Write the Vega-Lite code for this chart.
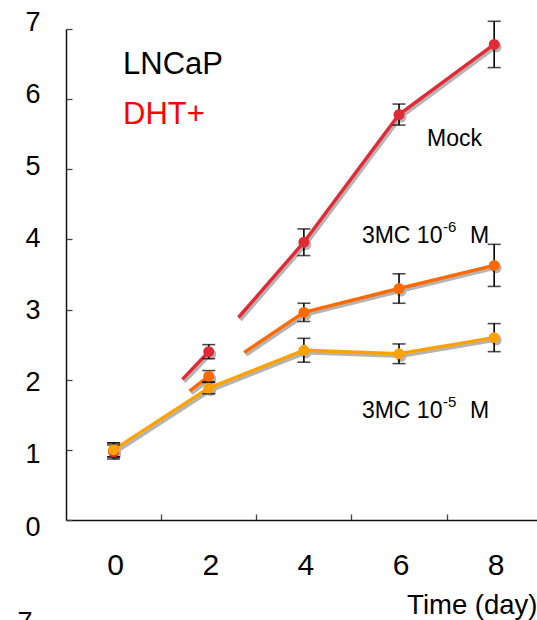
{
  "$schema": "https://vega.github.io/schema/vega-lite/v6.json",
  "width": 471,
  "height": 491,
  "autosize": {"type": "none"},
  "padding": {"left": 66, "top": 29, "right": 0, "bottom": 100},
  "background": "white",
  "config": {"view": {"stroke": null}, "font": "Liberation Sans", "axis": {"grid": false}},
  "data": {
    "values": [
      {"group": "Mock", "day": 0, "mean": 0.97, "err": 0.1},
      {"group": "Mock", "day": 2, "mean": 2.40, "err": 0.1},
      {"group": "Mock", "day": 4, "mean": 3.96, "err": 0.19},
      {"group": "Mock", "day": 6, "mean": 5.78, "err": 0.15},
      {"group": "Mock", "day": 8, "mean": 6.78, "err": 0.33},
      {"group": "3MC 1e-6", "day": 0, "mean": 1.0, "err": 0.1},
      {"group": "3MC 1e-6", "day": 2, "mean": 2.05, "err": 0.08},
      {"group": "3MC 1e-6", "day": 4, "mean": 2.96, "err": 0.13},
      {"group": "3MC 1e-6", "day": 6, "mean": 3.30, "err": 0.21},
      {"group": "3MC 1e-6", "day": 8, "mean": 3.63, "err": 0.30},
      {"group": "3MC 1e-5", "day": 0, "mean": 1.0, "err": 0.1},
      {"group": "3MC 1e-5", "day": 2, "mean": 1.88, "err": 0.08},
      {"group": "3MC 1e-5", "day": 4, "mean": 2.42, "err": 0.17},
      {"group": "3MC 1e-5", "day": 6, "mean": 2.37, "err": 0.14},
      {"group": "3MC 1e-5", "day": 8, "mean": 2.60, "err": 0.20}
    ]
  },
  "encoding": {
    "x": {
      "field": "day", "type": "quantitative",
      "scale": {"domain": [-1, 8.9], "nice": false, "zero": false},
      "axis": {
        "values": [0, 1, 2, 3, 4, 5, 6, 7, 8],
        "labelExpr": "datum.value % 2 == 0 ? datum.label : ''",
        "tickSize": -6,
        "tickWidth": 1.3,
        "tickColor": "#444",
        "tickOpacity": {"condition": {"test": "datum.value % 2 == 1", "value": 1}, "value": 0},
        "labelFlush": false,
        "labelOverlap": false,
        "labelFontSize": 30,
        "labelColor": "black",
        "labelBaseline": "middle",
        "labelPadding": 51,
        "labelOffset": 1.5,
        "domainColor": "#111",
        "domainWidth": 1.5,
        "title": "Time (day)",
        "titleAnchor": "end",
        "titleFontSize": 27.5,
        "titleFontWeight": "normal",
        "titleColor": "black",
        "titlePadding": 11
      }
    },
    "y": {
      "field": "mean", "type": "quantitative",
      "scale": {"domain": [0, 7], "nice": false},
      "axis": {
        "values": [0, 1, 2, 3, 4, 5, 6, 7],
        "tickSize": -6,
        "tickWidth": 1.3,
        "tickColor": "#444",
        "labelFontSize": 27,
        "labelColor": "black",
        "labelPadding": 32,
        "labelOffset": {"expr": "-2 * (datum.value - 3.5)"},
        "domainColor": "#111",
        "domainWidth": 1.5,
        "title": null
      }
    }
  },
  "layer": [
    {
      "mark": {"type": "line", "color": "#b4b4b4", "strokeWidth": 3.5, "xOffset": 2, "yOffset": 2.5},
      "encoding": {
        "detail": {"field": "group"},
        "strokeDash": {
          "field": "group", "type": "nominal", "legend": null,
          "scale": {"domain": ["Mock", "3MC 1e-6", "3MC 1e-5"], "range": [[0, 100, 36.5, 47, 10000], [0, 96, 24, 43, 10000], [10000, 1]]}
        }
      }
    },
    {
      "mark": {"type": "point", "filled": true, "color": "#b4b4b4", "opacity": 1, "size": 120, "xOffset": 2, "yOffset": 2.5},
      "encoding": {"detail": {"field": "group"}}
    },
    {
      "mark": {"type": "line", "strokeWidth": 3.5},
      "encoding": {
        "color": {
          "field": "group", "type": "nominal", "legend": null,
          "scale": {"domain": ["Mock", "3MC 1e-6", "3MC 1e-5"], "range": ["#e02a36", "#ff6a00", "#ffa200"]}
        },
        "strokeDash": {
          "field": "group", "type": "nominal", "legend": null,
          "scale": {"domain": ["Mock", "3MC 1e-6", "3MC 1e-5"], "range": [[0, 100, 36.5, 47, 10000], [0, 96, 24, 43, 10000], [10000, 1]]}
        }
      }
    },
    {
      "mark": {"type": "errorbar", "ticks": true, "size": 13, "thickness": 1.6, "color": "black"},
      "encoding": {
        "yError": {"field": "err"},
        "detail": {"field": "group"}
      }
    },
    {
      "mark": {"type": "point", "filled": true, "opacity": 1, "size": 120},
      "encoding": {
        "color": {
          "field": "group", "type": "nominal", "legend": null,
          "scale": {"domain": ["Mock", "3MC 1e-6", "3MC 1e-5"], "range": ["#e02a36", "#ff6a00", "#ffa200"]}
        }
      }
    },
    {
      "transform": [{"filter": "datum.group == 'Mock' && datum.day == 0"}],
      "mark": {"type": "text", "text": "LNCaP", "fontSize": 31, "align": "left", "baseline": "middle", "color": "black"},
      "encoding": {"x": {"datum": 0.2}, "y": {"datum": 6.48}}
    },
    {
      "transform": [{"filter": "datum.group == 'Mock' && datum.day == 0"}],
      "mark": {"type": "text", "text": "DHT+", "fontSize": 31, "align": "left", "baseline": "middle", "color": "#ff0000"},
      "encoding": {"x": {"datum": 0.2}, "y": {"datum": 5.77}}
    },
    {
      "transform": [{"filter": "datum.group == 'Mock' && datum.day == 0"}],
      "mark": {"type": "text", "text": "Mock", "fontSize": 23, "align": "left", "baseline": "middle", "color": "black"},
      "encoding": {"x": {"datum": 6.59}, "y": {"datum": 5.43}}
    },
    {
      "transform": [{"filter": "datum.group == 'Mock' && datum.day == 0"}],
      "mark": {"type": "text", "text": "3MC 10", "fontSize": 23, "align": "left", "baseline": "middle", "color": "black"},
      "encoding": {"x": {"datum": 5.22}, "y": {"datum": 4.05}}
    },
    {
      "transform": [{"filter": "datum.group == 'Mock' && datum.day == 0"}],
      "mark": {"type": "text", "text": "-6", "fontSize": 15, "align": "left", "baseline": "middle", "color": "black", "dx": 81, "dy": -9},
      "encoding": {"x": {"datum": 5.22}, "y": {"datum": 4.05}}
    },
    {
      "transform": [{"filter": "datum.group == 'Mock' && datum.day == 0"}],
      "mark": {"type": "text", "text": "M", "fontSize": 23, "align": "left", "baseline": "middle", "color": "black", "dx": 108},
      "encoding": {"x": {"datum": 5.22}, "y": {"datum": 4.05}}
    },
    {
      "transform": [{"filter": "datum.group == 'Mock' && datum.day == 0"}],
      "mark": {"type": "text", "text": "3MC 10", "fontSize": 23, "align": "left", "baseline": "middle", "color": "black"},
      "encoding": {"x": {"datum": 5.22}, "y": {"datum": 1.56}}
    },
    {
      "transform": [{"filter": "datum.group == 'Mock' && datum.day == 0"}],
      "mark": {"type": "text", "text": "-5", "fontSize": 15, "align": "left", "baseline": "middle", "color": "black", "dx": 81, "dy": -9},
      "encoding": {"x": {"datum": 5.22}, "y": {"datum": 1.56}}
    },
    {
      "transform": [{"filter": "datum.group == 'Mock' && datum.day == 0"}],
      "mark": {"type": "text", "text": "M", "fontSize": 23, "align": "left", "baseline": "middle", "color": "black", "dx": 108},
      "encoding": {"x": {"datum": 5.22}, "y": {"datum": 1.56}}
    },
    {
      "transform": [{"filter": "datum.group == 'Mock' && datum.day == 0"}],
      "mark": {"type": "text", "text": "7", "fontSize": 27, "align": "center", "baseline": "middle", "color": "black"},
      "encoding": {"x": {"datum": -1.86}, "y": {"datum": -1.47}}
    }
  ]
}
